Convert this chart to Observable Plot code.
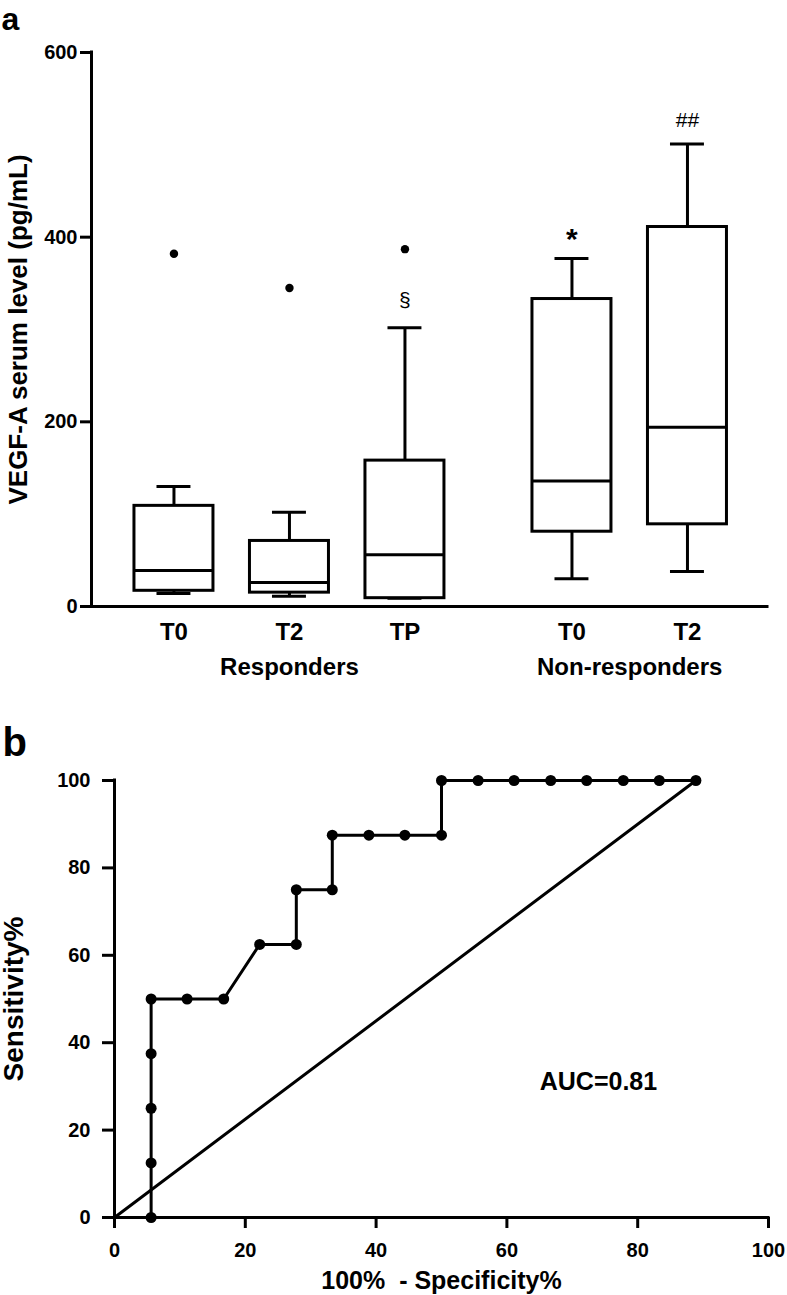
<!DOCTYPE html>
<html>
<head>
<meta charset="utf-8">
<script src="https://cdn.jsdelivr.net/npm/d3@7"></script>
<script src="https://cdn.jsdelivr.net/npm/@observablehq/plot@0.6"></script>
<style>
  html, body { margin: 0; padding: 0; background: #fff; }
  #chart { width: 787px; }
  #chart svg { display: block; }
</style>
</head>
<body>
<div id="chart"></div>
<script>
// ---------- Panel a data (VEGF-A serum level, pg/mL) ----------
const groups      = ["Responders", "Responders", "Responders", "Non-responders", "Non-responders"];
const timepoints  = ["T0", "T2", "TP", "T0", "T2"];
const whiskerMin  = [14, 11, 9, 30, 38];
const q1          = [17, 15, 9, 81, 89];
const medians     = [39, 26, 56, 136, 194];
const q3          = [109, 71, 158, 333, 411];
const whiskerMax  = [130, 102, 302, 377, 501];
const outliers    = [382, 345, 387, null, null];
const significance = ["", "", "§", "*", "##"];
const yTicksA     = [0, 200, 400, 600];
const yLabelA     = "VEGF-A serum level (pg/mL)";

// ---------- Panel b data (ROC curve) ----------
const rocFPR  = [5.6, 5.6, 5.6, 5.6, 5.6, 11.1, 16.7, 22.2, 27.8, 27.8, 33.3, 33.3, 38.9, 44.4, 50.0, 50.0, 55.6, 61.1, 66.7, 72.2, 77.8, 83.3, 88.9];
const rocSens = [0, 12.5, 25, 37.5, 50, 50, 50, 62.5, 62.5, 75, 75, 87.5, 87.5, 87.5, 87.5, 100, 100, 100, 100, 100, 100, 100, 100];
const ticksB  = [0, 20, 40, 60, 80, 100];
const aucText = "AUC=0.81";
const xLabelB = "100%\u00a0 - Specificity%";
const yLabelB = "Sensitivity%";

const FONT = "'Liberation Sans', Arial, Helvetica, sans-serif";
const SW = 3;

// ---------- Panel a ----------
const GAP = 0.446;          // extra spacing between the two groups
const boxHalf = 0.342, capHalf = 0.147;
const rows = timepoints.map((t, i) => ({
  group: groups[i], t,
  pos: i + (groups[i] === "Non-responders" ? GAP : 0),
  min: whiskerMin[i], q1: q1[i], med: medians[i], q3: q3[i], max: whiskerMax[i],
  out: outliers[i], sig: significance[i]
}));
const groupRows = d3.groups(rows, d => d.group).map(([g, v]) => ({group: g, pos: d3.mean(v, d => d.pos)}));
const xDomA = [-0.714, 5.139];

const plotA = Plot.plot({
  width: 787, height: 680,
  marginLeft: 91, marginRight: 20, marginTop: 52, marginBottom: 74,
  x: {type: "linear", domain: xDomA, axis: null},
  y: {domain: [0, 600], axis: null},
  style: {fontFamily: FONT, fontWeight: "bold", background: "white", color: "black", overflow: "visible"},
  marks: [
    Plot.axisY({ticks: yTicksA, tickSize: 11, tickPadding: 3, fontSize: 20, fontWeight: "bold", strokeWidth: SW, label: null}),
    Plot.ruleX([xDomA[0]], {y1: 0, y2: 600, strokeWidth: SW, strokeLinecap: "square"}),
    Plot.ruleY([0], {strokeWidth: SW, strokeLinecap: "square"}),
    // whiskers
    Plot.ruleX(rows, {x: "pos", y1: "q3", y2: "max", strokeWidth: SW}),
    Plot.ruleX(rows, {x: "pos", y1: "min", y2: "q1", strokeWidth: SW}),
    Plot.ruleY(rows, {y: "max", x1: d => d.pos - capHalf, x2: d => d.pos + capHalf, strokeWidth: SW}),
    Plot.ruleY(rows, {y: "min", x1: d => d.pos - capHalf, x2: d => d.pos + capHalf, strokeWidth: SW}),
    // boxes
    Plot.rect(rows, {x1: d => d.pos - boxHalf, x2: d => d.pos + boxHalf, y1: "q1", y2: "q3", fill: "white", stroke: "black", strokeWidth: SW}),
    Plot.ruleY(rows, {y: "med", x1: d => d.pos - boxHalf, x2: d => d.pos + boxHalf, strokeWidth: SW}),
    // outliers
    Plot.dot(rows.filter(d => d.out != null), {x: "pos", y: "out", r: 4.2, fill: "black", stroke: null}),
    // significance marks
    Plot.text(rows.filter(d => d.sig === "§"), {x: "pos", y: "max", text: "sig", dy: -27, lineAnchor: "middle", fontSize: 21, fontWeight: "normal"}),
    Plot.text(rows.filter(d => d.sig === "*"), {x: "pos", y: "max", text: "sig", dy: -19, lineAnchor: "middle", fontSize: 30, fontWeight: "bold"}),
    Plot.text(rows.filter(d => d.sig === "##"), {x: "pos", y: "max", text: "sig", dy: -24, lineAnchor: "middle", fontSize: 21, fontWeight: "normal"}),
    // category labels
    Plot.text(rows, {x: "pos", frameAnchor: "bottom", text: "t", dy: 33, lineAnchor: "bottom", fontSize: 24, fontWeight: "bold"}),
    Plot.text(groupRows, {x: "pos", frameAnchor: "bottom", text: "group", dy: 68, lineAnchor: "bottom", fontSize: 24, fontWeight: "bold"}),
    // axis title
    Plot.text([yLabelA], {frameAnchor: "left", rotate: -90, dx: -73, lineAnchor: "middle", textAnchor: "middle", fontSize: 26, fontWeight: "bold"}),
    // panel letter
    Plot.text(["a"], {frameAnchor: "top-left", dx: -90, dy: -23, textAnchor: "start", lineAnchor: "bottom", fontSize: 32, fontWeight: "bold"})
  ]
});

// ---------- Panel b ----------
const roc = rocFPR.map((x, i) => ({x, y: rocSens[i]}));
const diag = [{x: 0, y: 0}, roc[roc.length - 1]];

const plotB = Plot.plot({
  width: 787, height: 615,
  marginLeft: 114, marginRight: 19, marginTop: 100, marginBottom: 78,
  x: {domain: [0, 100], axis: null},
  y: {domain: [0, 100], axis: null},
  style: {fontFamily: FONT, fontWeight: "bold", background: "white", color: "black", overflow: "visible"},
  marks: [
    Plot.axisY({ticks: ticksB, tickSize: 12, tickPadding: 12, fontSize: 20, fontWeight: "bold", strokeWidth: SW, label: null}),
    Plot.axisX({ticks: ticksB, tickSize: 11, tickPadding: 14, fontSize: 20, fontWeight: "bold", strokeWidth: SW, label: null}),
    Plot.ruleX([0], {y1: 0, y2: 100, strokeWidth: SW, strokeLinecap: "square"}),
    Plot.ruleY([0], {strokeWidth: SW, strokeLinecap: "square"}),
    Plot.line(diag, {x: "x", y: "y", strokeWidth: SW}),
    Plot.line(roc, {x: "x", y: "y", strokeWidth: SW}),
    Plot.dot(roc, {x: "x", y: "y", r: 5.5, fill: "black", stroke: null}),
    Plot.text([aucText], {x: 74, y: 31, lineAnchor: "middle", fontSize: 25, fontWeight: "bold"}),
    Plot.text([xLabelB], {frameAnchor: "bottom", dy: 71, lineAnchor: "bottom", fontSize: 25, fontWeight: "bold"}),
    Plot.text([yLabelB], {frameAnchor: "left", rotate: -90, dx: -100, lineAnchor: "middle", textAnchor: "middle", fontSize: 28, fontWeight: "bold"}),
    Plot.text(["b"], {frameAnchor: "top-left", dx: -112, dy: -25, textAnchor: "start", lineAnchor: "bottom", fontSize: 40, fontWeight: "bold"})
  ]
});

const root = document.getElementById("chart");
root.appendChild(plotA);
root.appendChild(plotB);
</script>
</body>
</html>
